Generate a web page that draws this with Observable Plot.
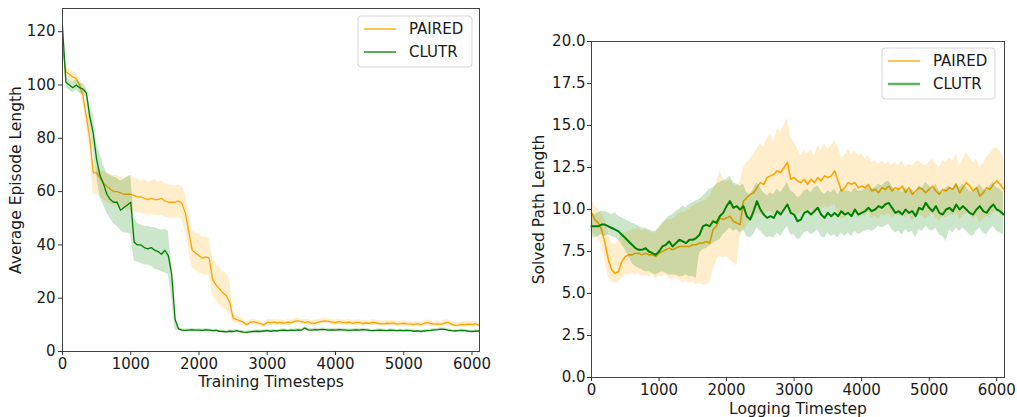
<!DOCTYPE html>
<html><head><meta charset="utf-8">
<script src="https://cdn.jsdelivr.net/npm/d3@7"></script>
<script src="https://cdn.jsdelivr.net/npm/@observablehq/plot@0.6"></script>
<style>
body{margin:0;background:#fff;}
#wrap{position:relative;width:1017px;height:417px;overflow:hidden;}
.panel{position:absolute;top:0;}
</style>
</head><body>
<div id="wrap"><div class="panel" id="left" style="left:0"></div><div class="panel" id="right" style="left:510px"></div></div>
<script>
// x grid: logged timesteps every 50
const timesteps = d3.range(0, 6101, 50);
const xTicks = [0, 1000, 2000, 3000, 4000, 5000, 6000];
const yTicksLeft = [0, 20, 40, 60, 80, 100, 120];
const yTicksRight = [0, 2.5, 5, 7.5, 10, 12.5, 15, 17.5, 20];
const seriesNames = ["PAIRED", "CLUTR"];

// Left: Average Episode Length
const pairedLeftMean = [114,105,104,103,102.5,100,96,88,80,67,
 67,65,63,62,61,60,60,59.5,59,59,
 59,58.5,58,58,57.5,57,57.5,57,57,57.5,
 56.5,56,56,56,56.5,55.5,52,45,38,37,
 36,35,35.5,35,27,25,23.5,22,21,18.5,
 12.5,12,11.5,11,10,11,11.2,10.8,10.5,10,
 11,10.8,11,10.7,10.9,10.6,11,10.8,11.3,11.5,
 11.2,10.9,11.2,10.5,10.6,11,11.3,11.5,11.3,11,
 10.8,11.2,10.9,10.8,11,10.6,10.8,10.9,10.5,10.7,
 10.6,10.9,10.7,10.5,10.4,10.6,10.5,10.7,10.3,10.4,
 10.6,10.4,10.3,10.2,10.5,10.1,10.6,10.8,10.5,10.3,
 10.4,10.2,10.7,10.9,10.3,9.8,9.9,10.2,10.1,10.3,
 10.2,10.4,9.8];
const pairedLeftHi = [117,107,106,105,104.5,102,99,92,85,70,
 69,68,67.5,67,66.5,66,66,65.5,65,65.5,
 66,65,64.5,64,64.5,63.5,64,64.5,63.5,64,
 63,62.5,62.5,62,62.5,62,59,52,45.5,44.5,
 44,43,43,42.5,35,33,31.5,30,29.5,27,
 14,13.5,13,12.3,11,12,12.2,11.8,11.5,11,
 12,11.8,12,11.7,11.9,11.6,12,11.8,12.3,12.5,
 12.2,11.9,12.2,11.5,11.6,12,12.3,12.5,12.3,12,
 11.8,12.2,11.9,11.8,12,11.6,11.8,11.9,11.5,11.7,
 11.6,11.9,11.7,11.5,11.4,11.6,11.5,11.7,11.3,11.4,
 11.6,11.4,11.3,11.2,11.5,11.1,11.6,11.8,11.5,11.3,
 11.4,11.2,11.7,11.9,11.3,10.8,10.9,11.2,11.1,11.3,
 11.2,11.4,10.8];
const pairedLeftLo = [111,103,102,101,100.5,98,93,84,76,59,
 59,58,57,56,55.5,55,54.5,54,53.5,53,
 53,52.5,52,52,51.5,51,51.5,51,51,51,
 50.5,50,50,50,50.5,49.5,45,38,31.5,30.5,
 29.5,29,28.5,28.5,21,19,17.5,16.5,15.5,14,
 11,10.5,10,9.7,9,10,10.2,9.8,9.5,9,
 10,9.8,10,9.7,9.9,9.6,10,9.8,10.3,10.5,
 10.2,9.9,10.2,9.5,9.6,10,10.3,10.5,10.3,10,
 9.8,10.2,9.9,9.8,10,9.6,9.8,9.9,9.5,9.7,
 9.6,9.9,9.7,9.5,9.4,9.6,9.5,9.7,9.3,9.4,
 9.6,9.4,9.3,9.2,9.5,9.1,9.6,9.8,9.5,9.3,
 9.4,9.2,9.7,9.9,9.3,8.8,8.9,9.2,9.1,9.3,
 9.2,9.4,8.8];
const clutrLeftMean = [122,101,100,99,100,99,98.5,97,88,82,
 72,66,63,59,57,56,56,53,54,55,
 56,41,40,40,39,38.5,39,38,37.5,36.5,
 38,36,29,12,8.5,8,7.9,8,8.1,8,
 8,7.9,8.1,8,7.8,7.9,7.6,7.5,7.4,7.6,
 7.5,7.8,7.5,7.3,7.2,7.4,7.5,7.6,7.5,7.7,
 7.8,7.6,7.8,7.7,7.9,8,7.8,8,7.9,8.1,
 8,8.8,8.1,8,8.2,8.1,8.3,8.2,8,8.1,
 8,8.2,8.1,8,7.9,8,8.1,8,8.2,8.1,
 7.9,7.8,7.9,8,7.9,7.8,8,7.9,7.8,7.9,
 7.8,7.9,7.8,7.6,7.7,7.5,7.7,7.8,7.9,8.1,
 8.2,8.4,8.3,8,7.8,7.7,7.8,7.9,7.8,7.6,
 7.5,7.6,7.7];
const clutrLeftHi = [123,103,102,101,102,101,100.5,99,92,89,
 78,74,70,67,66,65.5,65,64,64.5,65.5,
 66,50,48,47.5,47,47,46.5,46.5,46,45.5,
 46,45,33,14,9,8.5,8.4,8.5,8.6,8.5,
 8.5,8.4,8.6,8.5,8.3,8.4,8.1,8,7.9,8.1,
 8,8.3,8,7.8,7.7,7.9,8,8.1,8,8.2,
 8.3,8.1,8.3,8.2,8.4,8.5,8.3,8.5,8.4,8.6,
 8.5,9.3,8.6,8.5,8.7,8.6,8.8,8.7,8.5,8.6,
 8.5,8.7,8.6,8.5,8.4,8.5,8.6,8.5,8.7,8.6,
 8.4,8.3,8.4,8.5,8.4,8.3,8.5,8.4,8.3,8.4,
 8.3,8.4,8.3,8.1,8.2,8,8.2,8.3,8.4,8.6,
 8.7,8.9,8.8,8.5,8.3,8.2,8.3,8.4,8.3,8.1,
 8,8.1,8.2];
const clutrLeftLo = [121,99,98,97,98,97,96.5,95,84,76,
 66,58,55,52,50,48,47,45.5,44.5,44.5,
 44,34,33.5,33,32.5,32.5,32,31,30.5,30,
 29.5,29,20,8,8,7.5,7.4,7.5,7.6,7.5,
 7.5,7.4,7.6,7.5,7.3,7.4,7.1,7,6.9,7.1,
 7,7.3,7,6.8,6.7,6.9,7,7.1,7,7.2,
 7.3,7.1,7.3,7.2,7.4,7.5,7.3,7.5,7.4,7.6,
 7.5,8.3,7.6,7.5,7.7,7.6,7.8,7.7,7.5,7.6,
 7.5,7.7,7.6,7.5,7.4,7.5,7.6,7.5,7.7,7.6,
 7.4,7.3,7.4,7.5,7.4,7.3,7.5,7.4,7.3,7.4,
 7.3,7.4,7.3,7.1,7.2,7,7.2,7.3,7.4,7.6,
 7.7,7.9,7.8,7.5,7.3,7.2,7.3,7.4,7.3,7.1,
 7,7.1,7.2];

// Right: Solved Path Length
const pairedRightMean = [9.8,9.4,9.2,8.8,8.0,7.0,6.4,6.2,6.3,6.9,
 7.2,7.3,7.3,7.4,7.4,7.3,7.4,7.3,7.3,7.2,
 7.4,7.5,7.6,7.7,7.6,7.7,7.8,7.8,7.8,7.8,
 7.9,7.9,8.0,8.0,8.1,8.0,8.8,9.0,9.5,9.4,
 9.5,9.6,9.3,9.2,9.1,10.5,10.7,10.9,11.0,11.3,
 11.6,11.5,11.9,12.0,12.1,12.3,12.2,12.5,12.8,11.8,
 11.9,11.7,11.6,11.8,11.5,11.8,11.6,11.9,11.7,12.0,
 11.9,12.0,12.3,11.7,11.1,11.3,11.6,11.5,11.6,11.3,
 11.4,11.3,11.5,11.1,11.2,11.0,11.3,11.2,11.4,11.1,
 11.3,11.2,11.4,11.0,11.3,10.9,11.1,11.3,11.2,11.0,
 11.2,11.4,11.1,10.9,11.2,11.1,11.3,11.2,11.5,11.0,
 11.3,11.6,11.4,11.1,11.3,10.8,11.0,11.3,11.2,11.5,
 11.7,11.5,11.2];
const pairedRightHi = [10.6,10.2,10.0,9.8,9.4,8.6,8.0,7.9,8.2,8.5,
 8.6,8.7,8.8,8.8,8.9,8.7,8.8,8.7,8.6,8.6,
 8.9,9.1,9.3,9.4,9.4,9.6,9.8,9.8,9.9,10.0,
 10.2,10.3,10.4,10.5,10.6,10.8,11.2,11.5,12.3,11.8,
 11.6,11.8,11.5,11.4,11.6,12.5,12.8,13.0,13.3,13.6,
 13.9,13.7,14.2,14.5,14.0,14.8,14.6,15.0,15.4,14.3,
 14.0,13.6,13.2,13.5,13.3,13.6,13.2,13.8,13.5,13.9,
 13.6,13.8,14.1,13.7,13.1,13.2,13.6,13.3,13.5,13.2,
 13.3,13.0,13.2,12.8,12.9,12.7,12.9,12.7,12.8,12.6,
 12.8,12.6,12.9,12.5,12.7,12.6,12.8,12.9,12.7,12.6,
 12.8,13.0,12.7,12.5,12.9,12.8,13.1,12.9,13.3,12.6,
 13.0,13.4,13.1,12.8,13.0,12.5,12.7,13.1,13.3,13.6,
 13.7,13.5,13.0];
const pairedRightLo = [8.7,8.5,8.3,7.8,6.9,6.0,5.7,5.6,5.7,5.9,
 6.1,6.1,6.2,6.1,6.2,6.0,6.1,6.0,6.1,5.9,
 6.0,6.0,6.1,5.9,5.8,5.9,5.8,5.6,5.7,5.6,
 5.7,5.5,5.6,5.5,5.5,5.6,6.4,7.0,7.2,7.1,
 7.2,7.0,6.8,6.6,8.4,8.7,9.0,9.3,9.5,9.7,
 9.7,9.6,9.8,9.9,9.7,9.9,9.8,10.0,10.2,9.6,
 9.8,9.7,9.8,9.9,9.7,10.0,9.8,10.1,9.9,10.2,
 10.1,10.2,10.3,9.8,9.4,9.5,9.7,9.6,9.8,9.5,
 9.7,9.6,9.8,9.5,9.6,9.4,9.7,9.6,9.8,9.5,
 9.7,9.6,9.8,9.5,9.7,9.3,9.5,9.7,9.6,9.4,
 9.6,9.8,9.5,9.3,9.6,9.5,9.7,9.6,9.8,9.4,
 9.6,9.8,9.7,9.4,9.6,9.2,9.4,9.6,9.5,9.8,
 9.9,9.7,9.5];
const clutrRightMean = [9.0,9.0,9.0,9.1,9.1,9.0,8.9,8.8,8.7,8.5,
 8.3,8.1,7.9,7.7,7.6,7.6,7.7,7.5,7.4,7.3,
 7.5,7.8,7.9,8.1,7.8,8.0,8.2,8.1,8.0,8.2,
 8.2,8.3,8.5,9.0,9.1,9.0,9.3,9.2,9.6,9.8,
 10.2,10.5,10.1,10.2,10.0,10.2,9.6,9.4,9.9,10.5,
 10.0,9.7,9.5,9.6,9.5,9.9,9.7,10.0,10.3,9.8,
 9.7,9.3,9.4,9.8,9.9,9.7,9.9,10.1,9.7,9.5,
 9.8,9.6,9.8,9.6,9.9,9.7,9.8,9.6,10.0,9.7,
 9.8,9.9,10.1,9.9,10.0,10.2,10.1,10.3,10.4,10.1,
 9.8,9.9,9.7,10.0,9.8,9.9,9.6,10.1,10.0,10.4,
 10.1,9.9,10.2,9.8,9.7,10.0,10.1,9.9,10.3,10.0,
 10.2,10.0,9.8,9.7,10.0,10.2,9.9,9.8,10.1,10.3,
 10.0,9.9,9.7];
const clutrRightHi = [9.8,9.7,9.8,9.9,9.9,9.8,9.7,9.8,9.6,9.5,
 9.4,9.3,9.2,9.1,9.0,8.9,8.9,8.8,8.7,8.7,
 8.9,9.2,9.4,9.6,9.7,9.9,10.0,10.2,10.1,10.3,
 10.4,10.5,10.6,10.8,11.0,11.2,11.3,11.5,11.6,11.7,
 11.8,12.0,11.6,11.5,11.4,11.5,11.0,10.9,11.2,11.6,
 11.3,11.0,10.8,11.0,10.9,11.2,11.0,11.3,11.6,11.1,
 11.0,10.7,10.8,11.1,11.2,11.0,11.3,11.4,11.1,10.9,
 11.1,11.0,11.2,10.9,11.2,11.1,11.1,11.0,11.3,11.1,
 11.1,11.2,11.4,11.2,11.3,11.5,11.4,11.6,11.7,11.4,
 11.1,11.2,11.0,11.3,11.1,11.2,10.9,11.4,11.3,11.6,
 11.4,11.2,11.5,11.1,11.0,11.3,11.4,11.2,11.6,11.3,
 11.5,11.3,11.1,11.0,11.3,11.5,11.2,11.1,11.4,11.6,
 11.3,11.2,11.0];
const clutrRightLo = [8.4,8.3,8.4,8.5,8.4,8.5,8.4,8.3,8.2,7.9,
 7.6,7.2,6.8,6.6,6.5,6.4,6.3,6.3,6.2,6.1,
 6.2,6.3,6.2,6.1,6.1,6.1,6.0,6.0,6.1,6.0,
 6.0,5.9,7.4,7.6,7.7,7.8,8.0,8.1,8.2,8.5,
 8.7,8.9,8.7,8.8,8.6,8.8,8.4,8.3,8.5,8.9,
 8.7,8.5,8.3,8.4,8.3,8.6,8.4,8.7,9.0,8.5,
 8.5,8.2,8.3,8.6,8.7,8.5,8.6,8.8,8.4,8.3,
 8.6,8.4,8.5,8.3,8.6,8.4,8.6,8.4,8.7,8.5,
 8.6,8.7,8.8,8.7,8.8,9.0,8.9,9.0,9.1,8.8,
 8.6,8.7,8.5,8.8,8.6,8.7,8.3,8.8,8.7,9.0,
 8.8,8.7,8.9,8.5,8.4,8.1,8.8,8.6,8.9,8.7,
 8.9,8.7,8.5,8.4,8.7,8.9,8.6,8.5,8.8,9.0,
 8.7,8.6,8.5];

const ORANGE = "#ffa500", GREEN = "#008000";

function rows(mean, lo, hi) {
  const n = Math.min(timesteps.length, mean.length, lo.length, hi.length);
  const out = [];
  for (let i = 0; i < n; i++) out.push({t: timesteps[i], mean: mean[i], lo: lo[i], hi: hi[i]});
  return out;
}

function panel(o) {
  const marks = [];
  for (const s of o.series) {
    marks.push(Plot.areaY(s.data, {x: "t", y1: "lo", y2: "hi", fill: s.color, fillOpacity: 0.2}));
    marks.push(Plot.lineY(s.data, {x: "t", y: "mean", stroke: s.color, strokeWidth: s.w}));
  }
  marks.push(Plot.frame({stroke: "#444", strokeWidth: 1}));
  marks.push(Plot.axisX({ticks: xTicks, tickSize: 4, tickPadding: 3, tickFormat: d => String(d), fontSize: 15, label: null, stroke: "#333"}));
  marks.push(Plot.axisY({ticks: o.yTicks, tickSize: 4, tickPadding: o.yPad, tickFormat: o.yFmt, fontSize: 15, label: null, stroke: "#333"}));
  marks.push(Plot.text([o.xLabel], {frameAnchor: "bottom", dy: o.xLabelDy, lineAnchor: "bottom", textAnchor: "middle", fontSize: 15.5}));
  marks.push(Plot.text([o.yLabel], {frameAnchor: "left", dx: -o.yLabelDx, rotate: -90, lineAnchor: "top", textAnchor: "middle", fontSize: 15.5}));
  const svg = Plot.plot({
    width: o.width, height: 417,
    marginLeft: o.ml, marginRight: o.mr, marginTop: o.mt, marginBottom: o.mb,
    style: {fontFamily: "DejaVu Sans", color: "#1a1a1a", background: "#fff", overflow: "visible"},
    x: {domain: o.xDomain},
    y: {domain: o.yDomain},
    marks
  });
  // legend
  const L = o.legend;
  const g = d3.select(svg).append("g").attr("font-family", "DejaVu Sans").attr("font-size", 15).attr("text-anchor", "start");
  g.append("rect").attr("x", L.x).attr("y", L.y).attr("width", L.w).attr("height", L.h)
    .attr("rx", 3).attr("fill", "#fff").attr("fill-opacity", 0.85).attr("stroke", "#d6d6d6");
  L.items.forEach((it, i) => {
    const yy = L.y + 13 + i * 23;
    g.append("line").attr("x1", L.x + 6).attr("x2", L.x + 38).attr("y1", yy).attr("y2", yy)
      .attr("stroke", it.color).attr("stroke-width", it.w);
    g.append("text").attr("x", L.x + 51).attr("y", yy).attr("dy", "0.36em").attr("text-anchor", "start").attr("fill", "#1a1a1a").text(it.name);
  });
  return svg;
}

const leftSvg = panel({
  width: 510, ml: 62, mr: 31, mt: 8, mb: 66,
  xDomain: [0, 6110], yDomain: [0, 128.7],
  yTicks: yTicksLeft, yFmt: d => String(d), yPad: 3,
  xLabel: "Training Timesteps", yLabel: "Average Episode Length",
  xLabelDy: 35, yLabelDx: 53,
  series: [
    {data: rows(pairedLeftMean, pairedLeftLo, pairedLeftHi), color: ORANGE, w: 1.3},
    {data: rows(clutrLeftMean, clutrLeftLo, clutrLeftHi), color: GREEN, w: 1.3}
  ],
  legend: {x: 358, y: 16, w: 114, h: 51, items: [
    {name: seriesNames[0], color: ORANGE, w: 1.3},
    {name: seriesNames[1], color: GREEN, w: 1.3}
  ]}
});
document.getElementById("left").appendChild(leftSvg);

const rightSvg = panel({
  width: 507, ml: 81, mr: 13, mt: 41, mb: 40,
  xDomain: [0, 6115], yDomain: [0, 20],
  yTicks: yTicksRight, yFmt: d => d.toFixed(1), yPad: 2,
  xLabel: "Logging Timestep", yLabel: "Solved Path Length",
  xLabelDy: 36, yLabelDx: 59,
  series: [
    {data: rows(pairedRightMean, pairedRightLo, pairedRightHi), color: ORANGE, w: 1.6},
    {data: rows(clutrRightMean, clutrRightLo, clutrRightHi), color: GREEN, w: 2}
  ],
  legend: {x: 372, y: 48, w: 113, h: 51, items: [
    {name: seriesNames[0], color: ORANGE, w: 1.3},
    {name: seriesNames[1], color: "#66b266", w: 2.6}
  ]}
});
document.getElementById("right").appendChild(rightSvg);
</script>
</body></html>
